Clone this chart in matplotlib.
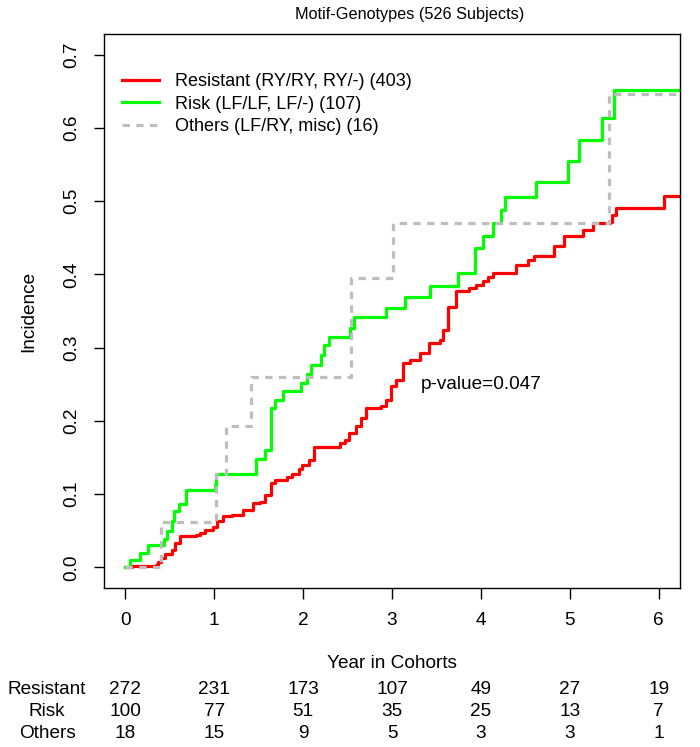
import matplotlib
matplotlib.use('Agg')
import matplotlib.pyplot as plt
from matplotlib.transforms import blended_transform_factory

plt.rcParams['font.family'] = ['Liberation Sans', 'DejaVu Sans']

# ---- data ----
res_t = [0, 0.08, 0.35, 0.37, 0.40, 0.45, 0.52, 0.56, 0.61, 0.80, 0.84, 0.90, 0.985,
         1.03, 1.10, 1.20, 1.32, 1.435, 1.52, 1.57, 1.64, 1.68, 1.82, 1.88, 1.95, 1.99,
         2.07, 2.12, 2.41, 2.47, 2.52, 2.60, 2.655, 2.71, 2.88, 2.935, 2.99, 3.05, 3.12,
         3.20, 3.31, 3.42, 3.535, 3.57, 3.63, 3.72, 3.87, 3.95, 4.02, 4.08, 4.135, 4.40,
         4.53, 4.60, 4.82, 4.94, 5.15, 5.26, 5.45, 5.48, 5.52, 6.055, 6.4]
res_y = [0, 0.002, 0.004, 0.008, 0.013, 0.018, 0.0245, 0.033, 0.043, 0.045, 0.047, 0.051, 0.055,
         0.063, 0.070, 0.072, 0.079, 0.088, 0.090, 0.099, 0.115, 0.120, 0.123, 0.127, 0.134, 0.140,
         0.147, 0.165, 0.170, 0.174, 0.1835, 0.1925, 0.204, 0.2175, 0.2198, 0.229, 0.247, 0.256, 0.279,
         0.283, 0.2925, 0.306, 0.3106, 0.324, 0.356, 0.377, 0.381, 0.386, 0.391, 0.396, 0.4015, 0.413,
         0.420, 0.425, 0.439, 0.452, 0.461, 0.4696, 0.472, 0.481, 0.490, 0.507, 0.507]

risk_t = [0, 0.055, 0.16, 0.25, 0.43, 0.47, 0.52, 0.55, 0.60, 0.68, 1.005, 1.02, 1.47, 1.567,
          1.64, 1.68, 1.77, 1.98, 2.04, 2.09, 2.20, 2.24, 2.29, 2.53, 2.57, 2.93, 3.15, 3.43,
          3.74, 3.93, 4.02, 4.135, 4.23, 4.27, 4.62, 4.98, 5.10, 5.36, 5.50, 6.4]
risk_y = [0, 0.0099, 0.020, 0.030, 0.039, 0.050, 0.063, 0.077, 0.086, 0.106, 0.113, 0.127, 0.148, 0.160,
          0.2175, 0.229, 0.241, 0.252, 0.264, 0.2766, 0.290, 0.303, 0.315, 0.3266, 0.3415, 0.3547, 0.3697, 0.3847,
          0.4015, 0.4355, 0.452, 0.4696, 0.4877, 0.506, 0.5263, 0.5545, 0.583, 0.614, 0.652, 0.652]

oth_t = [0, 0.40, 1.02, 1.136, 1.417, 2.54, 3.01, 5.44, 6.4]
oth_y = [0, 0.0625, 0.127, 0.1925, 0.2606, 0.3947, 0.4696, 0.6467, 0.6467]

labels = ['Resistant (RY/RY, RY/-) (403)', 'Risk (LF/LF, LF/-) (107)', 'Others (LF/RY, misc) (16)']
groups = ['Resistant', 'Risk', 'Others']
risk_times = [0, 1, 2, 3, 4, 5, 6]
at_risk = {
    'Resistant': [272, 231, 173, 107, 49, 27, 19],
    'Risk': [100, 77, 51, 35, 25, 13, 7],
    'Others': [18, 15, 9, 5, 3, 3, 1],
}
xticks = [0, 1, 2, 3, 4, 5, 6]
yticks = [0.0, 0.1, 0.2, 0.3, 0.4, 0.5, 0.6, 0.7]

# ---- figure ----
W, H = 700, 747
FS = 13.7
fig = plt.figure(figsize=(W / 100, H / 100), dpi=100)
ax = fig.add_axes([104 / W, 1 - 588 / H, (680 - 104) / W, (588 - 34) / H])

lw = 2.3
ax.step(res_t, res_y, where='post', color='#FF0000', lw=lw, label=labels[0])
ax.step(risk_t, risk_y, where='post', color='#00FF00', lw=lw, label=labels[1])
ax.step(oth_t, oth_y, where='post', color='#BEBEBE', lw=lw, dashes=(2.3, 2.0), label=labels[2])

ax.set_xlim(-0.24, 6.24)
ax.set_ylim(-0.028, 0.728)
ax.set_xticks(xticks)
ax.set_xticklabels([str(v) for v in xticks])
ax.set_yticks(yticks)
ax.set_yticklabels([f'{v:.1f}' for v in yticks])
ax.tick_params(axis='x', length=8, width=1, labelsize=FS, pad=9)
ax.tick_params(axis='y', length=7, width=1, labelsize=FS, pad=10, labelrotation=90)
for lab in ax.get_yticklabels():
    lab.set_va('center')
for s in ax.spines.values():
    s.set_linewidth(1)

ax.set_ylabel('Incidence', fontsize=FS, labelpad=19)
fig.text(410 / W, 1 - 14 / H, 'Motif-Genotypes (526 Subjects)', fontsize=11.7,
         ha='center', va='center')

ax.text(4, 0.25, 'p-value=0.047', fontsize=FS, ha='center', va='center')

ax.legend(loc='upper left', bbox_to_anchor=(0.0, 0.962), frameon=False, fontsize=13,
          handlelength=2.05, handletextpad=0.9, labelspacing=0.3, borderaxespad=0.6)

# x axis label and risk table
trans = blended_transform_factory(ax.transData, fig.transFigure)
fig.text(392 / W, 1 - 663 / H, 'Year in Cohorts', ha='center', va='center', fontsize=FS)
row_y = [689, 712, 734]
for g, yy in zip(groups, row_y):
    fig.text(47 / W, 1 - yy / H, g, ha='center', va='center', fontsize=FS)
    for t, n in zip(risk_times, at_risk[g]):
        ax.text(t, 1 - yy / H, str(n), transform=trans, ha='center', va='center',
                fontsize=FS, clip_on=False)

fig.savefig('out.png', dpi=100)
